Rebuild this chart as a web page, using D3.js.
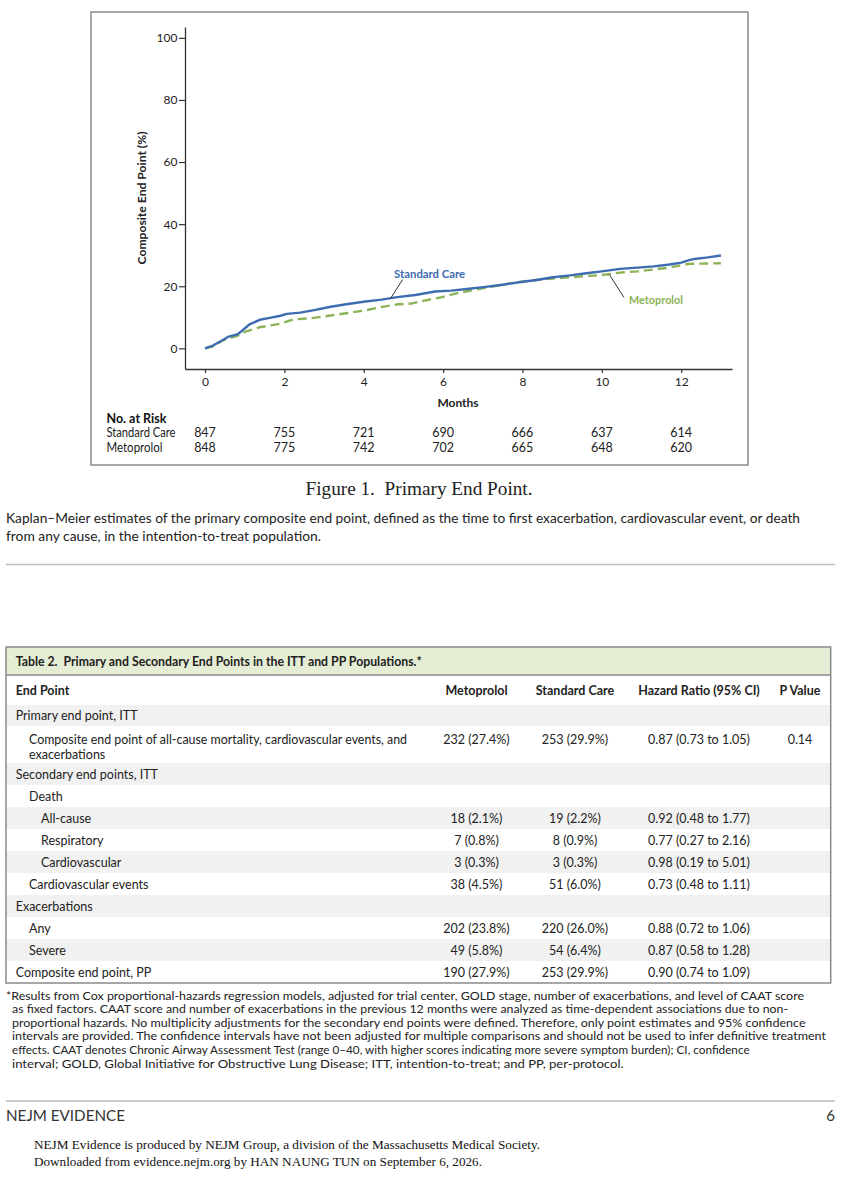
<!DOCTYPE html>
<html>
<head>
<meta charset="utf-8">
<script src="https://cdn.jsdelivr.net/npm/d3@7"></script>
<style>
  html, body { margin: 0; padding: 0; background: #fff; }
  svg { display: block; }
  text { white-space: pre; }
</style>
</head>
<body>
<div id="chart"></div>
<script>
// ---------------- DATA ----------------
const stdMonths = [0,0.2,0.45,0.6,0.83,0.92,1.12,1.38,1.63,1.9,2.06,2.4,2.75,3.17,3.6,4.0,4.45,4.8,5.3,5.8,6.2,6.6,7.07,7.5,7.92,8.35,8.77,9.2,9.61,10.0,10.46,10.9,11.31,11.7,12.0,12.2,12.33,12.67,13.0];
const stdPct    = [0,0.9,2.7,3.8,4.6,5.5,7.7,9.2,9.8,10.5,11.1,11.5,12.3,13.4,14.3,15.0,15.7,16.4,17.2,18.3,18.6,19.1,19.8,20.5,21.3,22.0,22.9,23.5,24.2,24.8,25.6,26.0,26.4,27.0,27.6,28.4,28.8,29.3,29.9];
const metoMonths = [0,0.2,0.44,0.83,1.04,1.38,1.89,2.23,2.74,3.17,3.6,4.02,4.44,4.87,5.2,5.46,5.97,6.4,7.07,7.5,7.92,8.35,8.77,9.2,9.61,10.0,10.46,10.9,11.31,11.7,12.0,12.2,12.5,13.0];
const metoPct    = [0,0.6,2.5,4.1,5.5,6.8,7.9,9.3,9.8,10.6,11.4,12.2,13.3,14.2,14.4,15.2,16.5,17.9,19.5,20.5,21.4,22.0,22.5,22.9,23.3,23.6,24.4,24.8,25.4,26.0,26.8,27.2,27.3,27.4];

const xTicks = [0,2,4,6,8,10,12];
const yTicks = [0,20,40,60,80,100];
const riskMonths = [0,2,4,6,8,10,12];
const riskStd  = [847,755,721,690,666,637,614];
const riskMeto = [848,775,742,702,665,648,620];
const seriesNames = ["Standard Care","Metoprolol"];

const tableCols = ["End Point","Metoprolol","Standard Care","Hazard Ratio (95% CI)","P Value"];
const rowLabels = [
  "Primary end point, ITT",
  ["Composite end point of all-cause mortality, cardiovascular events, and","exacerbations"],
  "Secondary end points, ITT",
  "Death",
  "All-cause",
  "Respiratory",
  "Cardiovascular",
  "Cardiovascular events",
  "Exacerbations",
  "Any",
  "Severe",
  "Composite end point, PP"
];
const rowIndent = [0,1,0,1,2,2,2,1,0,1,1,0];
const rowMeto = ["","232 (27.4%)","","","18 (2.1%)","7 (0.8%)","3 (0.3%)","38 (4.5%)","","202 (23.8%)","49 (5.8%)","190 (27.9%)"];
const rowStd  = ["","253 (29.9%)","","","19 (2.2%)","8 (0.9%)","3 (0.3%)","51 (6.0%)","","220 (26.0%)","54 (6.4%)","253 (29.9%)"];
const rowHR   = ["","0.87 (0.73 to 1.05)","","","0.92 (0.48 to 1.77)","0.77 (0.27 to 2.16)","0.98 (0.19 to 5.01)","0.73 (0.48 to 1.11)","","0.88 (0.72 to 1.06)","0.87 (0.58 to 1.28)","0.90 (0.74 to 1.09)"];
const rowP    = ["","0.14","","","","","","","","","",""];

const captionTitle = "Figure 1.  Primary End Point.";
const captionLines = [
  "Kaplan\u2013Meier estimates of the primary composite end point, defined as the time to first exacerbation, cardiovascular event, or death",
  "from any cause, in the intention-to-treat population."
];
const tableTitle = "Table 2.  Primary and Secondary End Points in the ITT and PP Populations.*";
const footLines = [
  "*Results from Cox proportional-hazards regression models, adjusted for trial center, GOLD stage, number of exacerbations, and level of CAAT score",
  "as fixed factors. CAAT score and number of exacerbations in the previous 12 months were analyzed as time-dependent associations due to non-",
  "proportional hazards. No multiplicity adjustments for the secondary end points were defined. Therefore, only point estimates and 95% confidence",
  "intervals are provided. The confidence intervals have not been adjusted for multiple comparisons and should not be used to infer definitive treatment",
  "effects. CAAT denotes Chronic Airway Assessment Test (range 0\u201340, with higher scores indicating more severe symptom burden); CI, confidence",
  "interval; GOLD, Global Initiative for Obstructive Lung Disease; ITT, intention-to-treat; and PP, per-protocol."
];
const footerLines = [
  "NEJM Evidence is produced by NEJM Group, a division of the Massachusetts Medical Society.",
  "Downloaded from evidence.nejm.org by HAN NAUNG TUN on September 6, 2026."
];

// ---------------- STYLE ----------------
const SANS = "Lato, 'Open Sans', sans-serif";
const SERIF = "'Liberation Serif', 'Times New Roman', serif";
const BLUE = "#3d6cb0";
const GREEN = "#8cb356";

const W = 855, H = 1200;
const svg = d3.select("#chart").append("svg").attr("width", W).attr("height", H)
  .style("font-family", SANS);
svg.append("rect").attr("width", W).attr("height", H).attr("fill", "#fff");

function fit(sel, w) { sel.attr("textLength", w).attr("lengthAdjust", "spacingAndGlyphs"); return sel; }

// ---------------- FIGURE FRAME ----------------
svg.append("rect").attr("x", 91).attr("y", 12).attr("width", 657).attr("height", 453)
  .attr("fill", "none").attr("stroke", "#8a8a8a").attr("stroke-width", 1.5);

const x = d3.scaleLinear().domain([-0.504, 13.28]).range([185, 732]);
const y = d3.scaleLinear().domain([-6.65, 103.5]).range([369, 27]);

const gx = svg.append("g").attr("transform", "translate(0,369)")
  .call(d3.axisBottom(x).tickValues(xTicks).tickSize(4).tickSizeOuter(0).tickPadding(4));
const gy = svg.append("g").attr("transform", "translate(185,0)")
  .call(d3.axisLeft(y).tickValues(yTicks).tickSize(6).tickSizeOuter(0).tickPadding(1.5));
[gx, gy].forEach(g => {
  g.select(".domain").attr("stroke", "#333").attr("stroke-width", 1.3);
  g.selectAll(".tick line").attr("stroke", "#333").attr("stroke-width", 1.2);
  g.selectAll(".tick text").attr("fill", "#222").style("font-size", "12px").style("font-family", SANS);
});

svg.append("text").attr("transform", "translate(141.7,198) rotate(-90)")
  .attr("text-anchor", "middle").attr("dominant-baseline", "central")
  .style("font-size", "11.5px").style("font-weight", "bold").attr("fill", "#222")
  .text("Composite End Point (%)").call(fit, 133);

svg.append("text").attr("x", 458).attr("y", 402).attr("text-anchor", "middle")
  .attr("dominant-baseline", "central").style("font-size", "12px").style("font-weight", "bold")
  .attr("fill", "#222").text("Months");

// curves
const line = d3.line().x(d => x(d[0])).y(d => y(d[1])).curve(d3.curveLinear);
const stdData = stdMonths.map((m, i) => [m, stdPct[i]]);
const metoData = metoMonths.map((m, i) => [m, metoPct[i]]);
svg.append("path").datum(metoData).attr("d", line).attr("fill", "none")
  .attr("stroke", GREEN).attr("stroke-width", 2.4).attr("stroke-dasharray", "9,5");
svg.append("path").datum(stdData).attr("d", line).attr("fill", "none")
  .attr("stroke", BLUE).attr("stroke-width", 2.4).attr("stroke-linejoin", "round");

// labels + leader lines
svg.append("line").attr("x1", 402.7).attr("y1", 279.5).attr("x2", 390.5).attr("y2", 298.5)
  .attr("stroke", "#333").attr("stroke-width", 1);
svg.append("text").attr("x", 429.6).attr("y", 273.3).attr("text-anchor", "middle")
  .attr("dominant-baseline", "central").style("font-size", "12px").style("font-weight", "bold")
  .attr("fill", BLUE).text(seriesNames[0]).call(fit, 71);
svg.append("line").attr("x1", 609.3).attr("y1", 274.5).attr("x2", 624).attr("y2", 297.5)
  .attr("stroke", "#333").attr("stroke-width", 1);
svg.append("text").attr("x", 656).attr("y", 299).attr("text-anchor", "middle")
  .attr("dominant-baseline", "central").style("font-size", "12px").style("font-weight", "bold")
  .attr("fill", GREEN).text(seriesNames[1]).call(fit, 54);

// number at risk
svg.append("text").attr("x", 106.5).attr("y", 418.3).attr("dominant-baseline", "central")
  .style("font-size", "12.5px").style("font-weight", "bold").attr("fill", "#111").text("No. at Risk");
[riskStd, riskMeto].forEach((arr, k) => {
  const yy = k === 0 ? 432.7 : 447;
  svg.append("text").attr("x", 106.5).attr("y", yy).attr("dominant-baseline", "central")
    .style("font-size", "12.5px").attr("fill", "#222").text(seriesNames[k]).call(fit, k === 0 ? 69 : 56);
  svg.selectAll(null).data(arr).enter().append("text")
    .attr("x", (d, i) => x(riskMonths[i])).attr("y", yy).attr("text-anchor", "middle")
    .attr("dominant-baseline", "central").style("font-size", "12.5px").attr("fill", "#222")
    .text(d => d);
});

// ---------------- CAPTION ----------------
svg.append("text").attr("x", 419).attr("y", 488.5).attr("text-anchor", "middle")
  .attr("dominant-baseline", "central").style("font-family", SERIF).style("font-size", "18px")
  .attr("fill", "#222").text(captionTitle).call(fit, 227);
const capW = [794, 315];
captionLines.forEach((t, i) => {
  svg.append("text").attr("x", 6).attr("y", 517.5 + i * 18).attr("dominant-baseline", "central")
    .style("font-size", "13px").attr("fill", "#222").text(t).call(fit, capW[i]);
});
svg.append("line").attr("x1", 6).attr("x2", 835).attr("y1", 564.5).attr("y2", 564.5)
  .attr("stroke", "#bdbdbd").attr("stroke-width", 1.5);

// ---------------- TABLE ----------------
const tL = 6, tR = 830.7, tT = 647, tB = 983;
const rowTops = [705,726,763,785,807,829,851,873,895,917,939,961,983];
svg.append("rect").attr("x", tL).attr("y", tT).attr("width", tR - tL).attr("height", 675 - tT)
  .attr("fill", "#e5edd4");
rowLabels.forEach((r, i) => {
  if (i % 2 === 0) {
    svg.append("rect").attr("x", tL).attr("y", rowTops[i]).attr("width", tR - tL)
      .attr("height", rowTops[i + 1] - rowTops[i]).attr("fill", "#f1f1f1");
  }
});
svg.append("line").attr("x1", tL).attr("x2", tR).attr("y1", 675).attr("y2", 675)
  .attr("stroke", "#8a8a8a").attr("stroke-width", 1.3);
svg.append("rect").attr("x", tL).attr("y", tT).attr("width", tR - tL).attr("height", tB - tT)
  .attr("fill", "none").attr("stroke", "#8a8a8a").attr("stroke-width", 1.5);

svg.append("text").attr("x", 15.7).attr("y", 661).attr("dominant-baseline", "central")
  .style("font-size", "12.5px").style("font-weight", "bold").attr("fill", "#222")
  .text(tableTitle).call(fit, 406);

const colX = [15.7, 476.5, 575, 699, 800];
tableCols.forEach((c, i) => {
  svg.append("text").attr("x", colX[i]).attr("y", 690.7)
    .attr("text-anchor", i === 0 ? "start" : "middle").attr("dominant-baseline", "central")
    .style("font-size", "12.5px").style("font-weight", "bold").attr("fill", "#222").text(c);
});

const indentX = [15.7, 29, 41];
rowLabels.forEach((r, i) => {
  const yc = Array.isArray(r) ? rowTops[i] + 13.5 : (rowTops[i] + rowTops[i + 1]) / 2;
  const lines = Array.isArray(r) ? r : [r];
  lines.forEach((t, j) => {
    const tx = svg.append("text").attr("x", indentX[rowIndent[i]]).attr("y", yc + j * 14.5)
      .attr("dominant-baseline", "central").style("font-size", "12.5px").attr("fill", "#222").text(t);
    if (Array.isArray(r) && j === 0) fit(tx, 378);
  });
  [rowMeto[i], rowStd[i], rowHR[i], rowP[i]].forEach((v, k) => {
    if (!v) return;
    svg.append("text").attr("x", colX[k + 1]).attr("y", yc).attr("text-anchor", "middle")
      .attr("dominant-baseline", "central").style("font-size", "12.5px").attr("fill", "#222").text(v);
  });
});

// ---------------- FOOTNOTE ----------------
const footW = [798, 776, 793.5, 814, 737.6, 611.6];
footLines.forEach((t, i) => {
  svg.append("text").attr("x", i === 0 ? 6 : 12).attr("y", 995 + i * 13.65)
    .attr("dominant-baseline", "central").style("font-size", "12px").attr("fill", "#222")
    .text(t).call(fit, footW[i]);
});

// ---------------- PAGE FOOTER ----------------
svg.append("line").attr("x1", 6).attr("x2", 835).attr("y1", 1101).attr("y2", 1101)
  .attr("stroke", "#bdbdbd").attr("stroke-width", 1.5);
svg.append("text").attr("x", 6).attr("y", 1115).attr("dominant-baseline", "central")
  .style("font-size", "15px").attr("fill", "#333").text("NEJM EVIDENCE").call(fit, 119);
svg.append("text").attr("x", 835).attr("y", 1115).attr("text-anchor", "end").attr("dominant-baseline", "central")
  .style("font-size", "15px").attr("fill", "#333").text("6");
const footerW = [506, 448];
footerLines.forEach((t, i) => {
  svg.append("text").attr("x", 34).attr("y", 1144 + i * 17).attr("dominant-baseline", "central")
    .style("font-family", SERIF).style("font-size", "13px").attr("fill", "#111")
    .text(t).call(fit, footerW[i]);
});
</script>
</body>
</html>
